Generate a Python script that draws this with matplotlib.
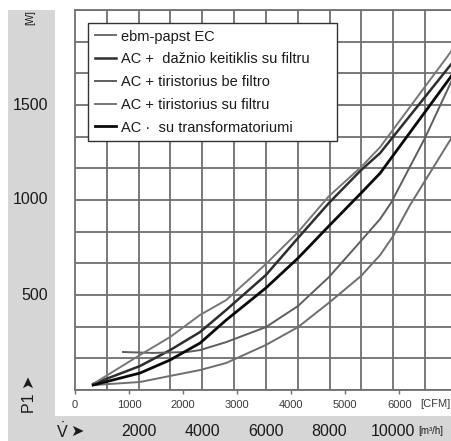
import matplotlib.pyplot as plt
import matplotlib.transforms as mtransforms
from matplotlib.patches import Rectangle
from matplotlib.ticker import FixedLocator

plt.rcParams['font.family'] = ['Liberation Sans Narrow', 'Liberation Sans', 'DejaVu Sans']
plt.rcParams['mathtext.fontset'] = 'custom'
plt.rcParams['mathtext.rm'] = 'Liberation Sans'

W_PX, H_PX = 452, 441

# air flow in m³/h, power input in W
su_filtru_flow = [570, 2040, 2990, 3930, 4750, 6000, 7010, 7980, 8990, 9590, 11850]
su_filtru_w = [32, 184, 279, 395, 473, 663, 831, 1020, 1173, 1278, 1788]

keitiklis_flow = [570, 2040, 2990, 3930, 4750, 6000, 7010, 7980, 8990, 9590, 11850]
keitiklis_w = [32, 126, 210, 305, 421, 605, 800, 984, 1157, 1247, 1720]

transf_flow = [570, 2040, 2990, 3930, 4750, 6000, 7010, 7980, 8990, 9590, 11850]
transf_w = [26, 89, 158, 247, 368, 537, 694, 863, 1036, 1141, 1657]

be_filtro_flow = [1510, 2450, 3520, 3930, 4750, 6000, 7010, 7980, 8990, 9590, 9930, 11000, 11850]
be_filtro_w = [200, 195, 200, 210, 252, 331, 442, 594, 785, 900, 984, 1326, 1631]

ec_flow = [570, 2040, 2990, 3930, 4750, 6000, 7010, 8010, 8990, 9590, 10000, 10530, 11850]
ec_w = [26, 42, 74, 105, 142, 237, 331, 463, 600, 710, 810, 973, 1331]

legend_labels = ['ebm-papst EC', 'AC +  dažnio keitiklis su filtru', 'AC + tiristorius be filtro',
                 'AC + tiristorius su filtru', 'AC ·  su transformatoriumi']

cfm_ticks = [0, 1000, 2000, 3000, 4000, 5000, 6000]
m3h_labels = [2000, 4000, 6000, 8000, 10000]
w_labels = [500, 1000, 1500]


def fx(x):
    return x / W_PX


def fy(y):
    return 1 - y / H_PX


fig = plt.figure(figsize=(4.52, 4.41), dpi=100)
fig.patch.set_facecolor('white')
fig.patches.append(Rectangle((fx(8), 0), 1 - fx(8), fy(10), transform=fig.transFigure,
                             facecolor='#d6d6d6', edgecolor='none', zorder=-2))
fig.patches.append(Rectangle((fx(55), fy(416)), 1 - fx(55), 416 / H_PX, transform=fig.transFigure,
                             facecolor='white', edgecolor='none', zorder=-1))

ax = fig.add_axes([fx(75), fy(390), fx(452) - fx(75), fy(10) - fy(390)])
ax.set_facecolor('white')
ax.set_xlim(0, 11850)
ax.set_ylim(0, 2000)

grid_c = '#707070'
ax.set_yticks([i * 2000 / 12 for i in range(13)])
ax.set_yticklabels([])
ax.tick_params(axis='y', length=0)
ax.xaxis.set_minor_locator(FixedLocator(range(1000, 12000, 1000)))
ax.tick_params(axis='x', which='minor', length=0)
ax.set_xticks([c * 1.699 for c in cfm_ticks])
ax.set_xticklabels([str(c) for c in cfm_ticks], fontsize=8, color='#3a3a3a')
ax.tick_params(axis='x', which='major', length=3, width=1, color=grid_c, pad=4, direction='out')
ax.grid(axis='y', which='major', color=grid_c, lw=1.3)
ax.grid(axis='x', which='minor', color=grid_c, lw=1.3)
for side in ['left', 'bottom', 'top']:
    ax.spines[side].set_color(grid_c)
    ax.spines[side].set_linewidth(1.3)
ax.spines['right'].set_visible(False)
ax.set_axisbelow(True)

l_ec, = ax.plot(ec_flow, ec_w, color='#6e6e6e', lw=1.4)
l_kt, = ax.plot(keitiklis_flow, keitiklis_w, color='#2e2e2e', lw=1.8)
l_bf, = ax.plot(be_filtro_flow, be_filtro_w, color='#5e5e5e', lw=1.4)
l_sf, = ax.plot(su_filtru_flow, su_filtru_w, color='#777777', lw=1.4)
l_tr, = ax.plot(transf_flow, transf_w, color='#0a0a0a', lw=2.0)

leg = ax.legend([l_ec, l_kt, l_bf, l_sf, l_tr],
                legend_labels[:1] + [legend_labels[1] + '     '] + legend_labels[2:],
                loc='upper left', bbox_to_anchor=(13 / 377, 367 / 380), borderaxespad=0,
                fontsize=10.5, labelspacing=0.6, handlelength=1.5, handletextpad=0.3,
                borderpad=0.45, fancybox=False, framealpha=1, edgecolor='#333333')
leg.get_frame().set_linewidth(1.0)
for t in leg.get_texts():
    t.set_color('#1a1a1a')

fig.text(fx(435), fy(404), '[CFM]', fontsize=8, color='#3a3a3a', ha='center', va='center')

tr_y = mtransforms.blended_transform_factory(fig.transFigure, ax.transData)
for v in w_labels:
    ax.text(fx(48), v, str(v), transform=tr_y, ha='right', va='center', fontsize=11.5, color='#1a1a1a')

tr_x = mtransforms.blended_transform_factory(ax.transData, fig.transFigure)
for v in m3h_labels:
    ax.text(v, fy(431), str(v), transform=tr_x, ha='center', va='center', fontsize=11.5, color='#1a1a1a')

fig.text(fx(418), fy(431), '[m³/h]', ha='left', va='center', fontsize=7, color='#1a1a1a')
fig.text(fx(62), fy(431), r'$\dot{\mathrm{V}}$', ha='center', va='center', fontsize=11.5, color='#1a1a1a')
fig.text(fx(77), fy(431), '\u27a4', ha='center', va='center', fontsize=11.5, color='#1a1a1a',
         family='DejaVu Sans')
fig.text(fx(29), fy(394), 'P1 \u27a4', ha='center', va='center', fontsize=11.5, rotation=90, color='#1a1a1a')
fig.text(fx(30), fy(18), '[W]', ha='center', va='center', fontsize=7, rotation=90, color='#1a1a1a')

fig.savefig('out.png', dpi=100)
